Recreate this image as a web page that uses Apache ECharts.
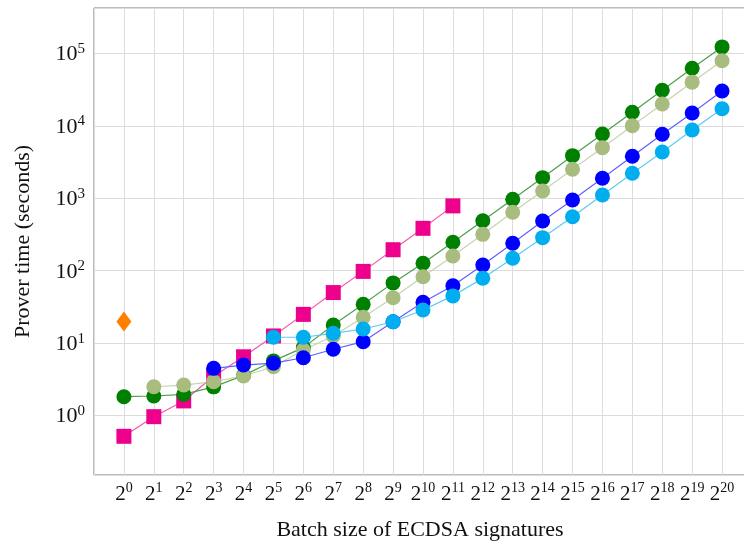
<!DOCTYPE html>
<html>
<head>
<meta charset="utf-8">
<script src="https://cdn.jsdelivr.net/npm/echarts@6/dist/echarts.min.js"></script>
<style>
  html, body { margin: 0; padding: 0; background: #fff; }
  #chart { width: 744px; height: 543px; }
</style>
</head>
<body>
<div id="chart"></div>
<script>
// batch size exponents: 2^0 .. 2^20
const exponents = [0,1,2,3,4,5,6,7,8,9,10,11,12,13,14,15,16,17,18,19,20];

// prover time in seconds (null = no point)
const orangeDiamond = [20];
const pinkSquares = [0.52, 0.97, 1.6, 3.5, 6.5, 12.6, 25, 50, 98, 195, 385, 785];
const darkGreen = [1.83, 1.87, 1.97, 2.5, 3.6, 5.7, 8.7, 17.8, 34.4, 68, 127, 247, 490, 968, 1924, 3870, 7710, 15350, 30900, 62200, 122500];
const lightOlive = [null, 2.51, 2.65, 2.95, 3.53, 4.74, 8.07, 12.6, 22.8, 42.5, 82.8, 160, 318, 640, 1260, 2510, 4990, 10000, 20000, 40000, 79000];
const blue = [null, null, null, 4.5, 5.0, 5.3, 6.3, 8.25, 10.5, 19.8, 36.7, 62, 120, 239, 486, 947, 1890, 3800, 7640, 15000, 30200];
const cyan = [null, null, null, null, null, 12.1, 12.1, 13.7, 15.7, 19.8, 28.7, 45, 78.7, 149, 286, 557, 1110, 2210, 4350, 8750, 17200];

const serif = '"Liberation Serif", "DejaVu Serif", serif';

function pairs(arr) {
  return arr.map((v, i) => [exponents[i], v]).filter(p => p[1] != null);
}

function lineSeries(name, data, color, lineColor, symbol, size) {
  return {
    name: name,
    type: 'line',
    data: pairs(data),
    symbol: symbol,
    symbolSize: size,
    itemStyle: { color: color },
    lineStyle: { color: lineColor, width: 1.2 },
    emphasis: { disabled: true },
    animation: false
  };
}

const chart = echarts.init(document.getElementById('chart'));
chart.setOption({
  backgroundColor: '#fff',
  grid: {
    left: 94, right: -2, top: 8, bottom: 68,
    outerBoundsMode: 'none',
    containLabel: false,
    show: true, borderColor: '#7a7a7a', borderWidth: 1
  },
  xAxis: {
    type: 'value',
    min: -1,
    max: 20.8,
    interval: 1,
    name: 'Batch size of ECDSA signatures',
    nameLocation: 'middle',
    nameGap: 44,
    nameTextStyle: { fontFamily: serif, fontSize: 22, color: '#111' },
    axisLine: { show: false },
    axisTick: { show: false },
    splitLine: { show: true, lineStyle: { color: '#dcdcdc', width: 1 } },
    axisLabel: {
      margin: 6,
      showMinLabel: false,
      showMaxLabel: false,
      formatter: function (v) {
        if (v < 0 || v > 20) return '';
        return '{b|2}{e|' + v + '}';
      },
      rich: {
        b: { fontFamily: serif, fontSize: 21, color: '#111', lineHeight: 24, verticalAlign: 'bottom' },
        e: { fontFamily: serif, fontSize: 14, color: '#111', lineHeight: 24, verticalAlign: 'top' }
      }
    }
  },
  yAxis: {
    type: 'log',
    logBase: 10,
    min: Math.pow(10, -0.818),
    max: Math.pow(10, 5.625),
    splitNumber: 6,
    name: 'Prover time (seconds)',
    nameLocation: 'middle',
    nameGap: 60,
    nameTextStyle: { fontFamily: serif, fontSize: 22, color: '#111' },
    axisLine: { show: false },
    axisTick: { show: false },
    splitLine: { show: true, lineStyle: { color: '#dcdcdc', width: 1 } },
    axisLabel: {
      margin: 9,
      showMinLabel: false,
      showMaxLabel: false,
      formatter: function (v) {
        const e = Math.round(Math.log10(v));
        if (Math.abs(Math.log10(v) - e) > 0.01) return '';
        return '{b|10}{e|' + e + '}';
      },
      rich: {
        b: { fontFamily: serif, fontSize: 22, color: '#111', lineHeight: 24, verticalAlign: 'bottom' },
        e: { fontFamily: serif, fontSize: 15, color: '#111', lineHeight: 24, verticalAlign: 'top' }
      }
    }
  },
  series: [
    lineSeries('pink', pinkSquares, '#ec008c', '#f05aae', 'rect', 15),
    lineSeries('darkGreen', darkGreen, '#008000', '#4d9f4d', 'circle', 15),
    lineSeries('lightOlive', lightOlive, '#a8bc80', '#c6d4ae', 'circle', 15),
    lineSeries('blue', blue, '#0000ff', '#6060ff', 'circle', 15),
    lineSeries('cyan', cyan, '#00aeef', '#5ccaf3', 'circle', 15),
    lineSeries('orange', orangeDiamond, '#ff8000', '#ff8000', 'diamond', [15, 20])
  ]
});
</script>
</body>
</html>
